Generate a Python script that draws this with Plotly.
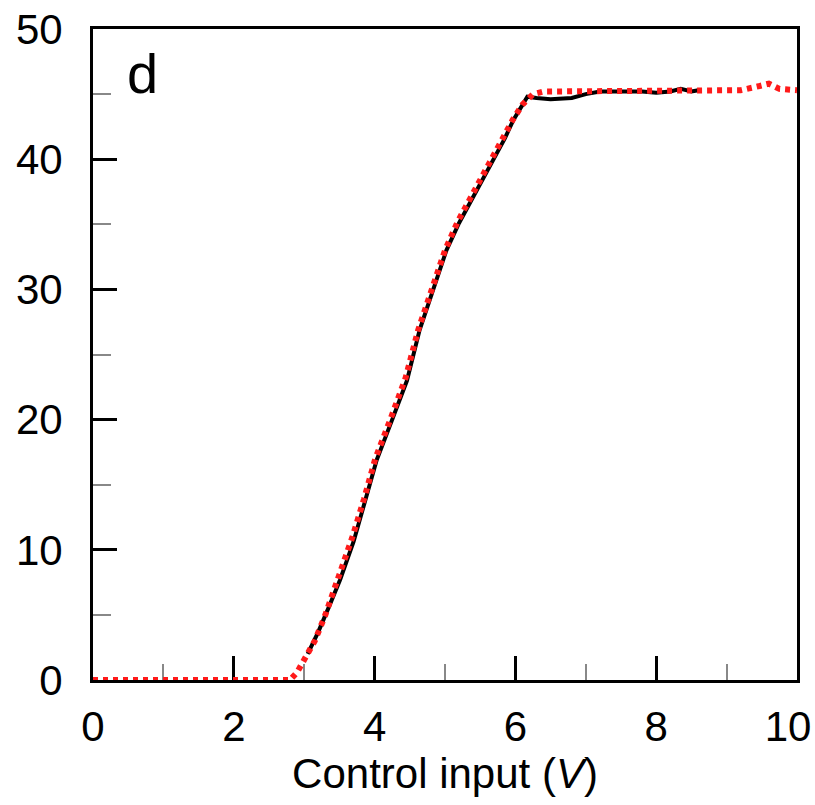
import plotly.graph_objects as go

# Measured (black solid) curve
meas_x = [3.05, 3.2, 3.35, 3.51, 3.7, 3.87, 4.03, 4.25, 4.46, 4.64, 4.84, 5.02, 5.2, 5.38,
          5.55, 5.68, 5.85, 5.97, 6.1, 6.17, 6.3, 6.5, 6.8, 7.0, 7.2, 7.5, 7.8, 8.0, 8.2,
          8.35, 8.5, 8.6]
meas_y = [2.0, 3.7, 5.6, 7.7, 10.6, 13.8, 16.9, 20.0, 23.0, 26.9, 30.0, 33.0, 35.1, 36.9,
          38.7, 40.0, 41.6, 43.0, 44.1, 44.8, 44.7, 44.6, 44.7, 45.0, 45.2, 45.2, 45.2, 45.1,
          45.2, 45.4, 45.2, 45.3]

# Model (red dotted) curve
model_x = [0, 0.5, 1, 1.5, 2, 2.5, 2.8, 2.9, 3.0, 3.15, 3.3, 3.48, 3.68, 3.85, 4.01, 4.23,
           4.44, 4.62, 4.82, 5.0, 5.18, 5.36, 5.53, 5.67, 5.84, 5.96, 6.1, 6.25, 6.4, 6.8,
           7.2, 7.6, 8.0, 8.4, 8.8, 9.2, 9.45, 9.6, 9.75, 10]
model_y = [0, 0, 0, 0, 0, 0, 0, 0.6, 1.5, 3.0, 5.0, 7.8, 10.9, 13.9, 17.0, 20.1, 23.2, 26.9,
           30.0, 33.0, 35.2, 37.0, 38.8, 40.0, 41.7, 43.0, 44.2, 45.0, 45.2, 45.2, 45.2, 45.3,
           45.3, 45.3, 45.3, 45.3, 45.6, 45.8, 45.4, 45.3]

x_ticks = [0, 2, 4, 6, 8, 10]
x_tick_labels = ["0", "2", "4", "6", "8", ""]
x_last_tick = [10]
x_last_label = ["10"]
y_ticks = [0, 10, 20, 30, 40, 50]
y_tick_labels = ["0", "10", "20", "30", "40", "50"]

FONT = "Liberation Sans, Arial, sans-serif"

fig = go.Figure()
fig.add_trace(go.Scatter(x=meas_x, y=meas_y, mode="lines",
                         line=dict(color="black", width=4), cliponaxis=False,
                         showlegend=False))
fig.add_trace(go.Scatter(x=model_x, y=model_y, mode="lines",
                         line=dict(color="#ff1a1a", width=6, dash="5px,5px"),
                         cliponaxis=False, showlegend=False))
# empty trace so the overlay axis carrying the last tick label is drawn
fig.add_trace(go.Scatter(x=[], y=[], xaxis="x2", yaxis="y", showlegend=False,
                         hoverinfo="skip"))

fig.add_annotation(x=0.071, y=0.931, xref="paper", yref="paper", text="d",
                   showarrow=False, xanchor="center", yanchor="middle",
                   font=dict(family=FONT, size=56, color="black"))

fig.update_layout(
    xaxis=dict(range=[0, 10], tickvals=x_ticks, ticktext=x_tick_labels,
               showline=True, linecolor="black", linewidth=3, mirror=True,
               ticks="inside", ticklen=24, tickwidth=3, tickcolor="black",
               minor=dict(dtick=1, ticks="inside", ticklen=16, tickwidth=1.5,
                          tickcolor="#888888"),
               showgrid=False, zeroline=False, layer="below traces",
               automargin=False, ticklabeloverflow="allow",
               tickfont=dict(family=FONT, size=42, color="black"),
               ticklabelstandoff=8,
               title=dict(text="Control input (<i>V</i>)", standoff=9,
                          font=dict(family=FONT, size=42, color="black"))),
    xaxis2=dict(range=[0, 10], overlaying="x", anchor="y", side="bottom",
                tickvals=x_last_tick, ticktext=x_last_label, ticks="",
                showline=False, showgrid=False, zeroline=False,
                automargin=False, ticklabeloverflow="allow",
                tickfont=dict(family=FONT, size=42, color="black"),
                ticklabelstandoff=18, ticklabelshift=-9),
    yaxis=dict(range=[0, 50], tickvals=y_ticks, ticktext=y_tick_labels,
               showline=True, linecolor="black", linewidth=3, mirror=True,
               ticks="inside", ticklen=24, tickwidth=3, tickcolor="black",
               minor=dict(dtick=5, ticks="inside", ticklen=18, tickwidth=1.5,
                          tickcolor="#888888"),
               showgrid=False, zeroline=False, layer="below traces",
               automargin=False, ticklabeloverflow="allow",
               tickfont=dict(family=FONT, size=42, color="black"),
               ticklabelstandoff=19),
    width=815, height=805, paper_bgcolor="white", plot_bgcolor="white",
    margin=dict(l=93, r=18, t=29, b=125), showlegend=False)

fig.write_html("out.html", config={"displayModeBar": False},
               post_script="document.body.style.margin='0';document.body.style.overflow='hidden';")
